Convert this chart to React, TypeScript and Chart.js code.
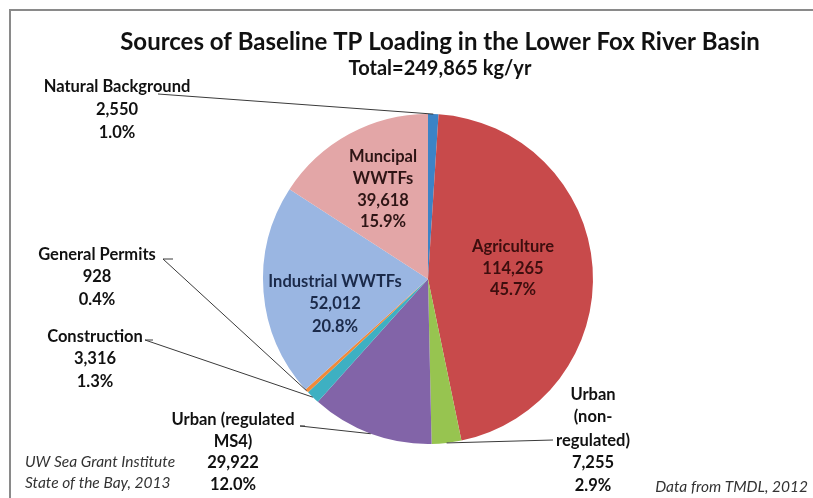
import React, { useEffect, useRef } from "react";
import { Chart, registerables } from "chart.js";

Chart.register(...registerables);

const categories = [
  "Natural Background",
  "Agriculture",
  "Urban (non-regulated)",
  "Urban (regulated MS4)",
  "Construction",
  "General Permits",
  "Industrial WWTFs",
  "Muncipal WWTFs",
];
const loads = [2550, 114265, 7255, 29922, 3316, 928, 52012, 39618];
const nameLines = [
  ["Natural Background"],
  ["Agriculture"],
  ["Urban", "(non-", "regulated)"],
  ["Urban (regulated", "MS4)"],
  ["Construction"],
  ["General Permits"],
  ["Industrial WWTFs"],
  ["Muncipal", "WWTFs"],
];
const sliceColors = [
  "#3c83c6",
  "#c84a4b",
  "#97c450",
  "#8264a8",
  "#3eb0c2",
  "#f08a3a",
  "#9ab6e2",
  "#e3a6a7",
];
const titleText = "Sources of Baseline TP Loading in the Lower Fox River Basin";
const subtitleText = "Total=249,865 kg/yr";
const sourceLeft = ["UW Sea Grant Institute", "State of the Bay, 2013"];
const sourceRight = "Data from TMDL, 2012";

// label layout (canvas px): anchor centre x, first line y, line heights, text colour, leader start
const labelLayout = [
  { x: 117, y: 87, lh: [23, 23, 23], color: "#111", lead: [[158, 94]] },
  { x: 513, y: 247, lh: [22, 21], color: "#3d0e0e", lead: null },
  { x: 593, y: 395, lh: [22, 24, 22, 23], color: "#111", lead: [[553, 440]] },
  { x: 233, y: 420, lh: [22, 21, 22], color: "#111", lead: [[305, 426], [300, 426]] },
  { x: 95, y: 337, lh: [22, 23], color: "#111", lead: [[153, 340], [145, 340]] },
  { x: 97, y: 255, lh: [22, 23], color: "#111", lead: [[173, 259], [163, 259]] },
  { x: 335, y: 282, lh: [22, 23], color: "#1b2a4a", lead: null },
  { x: 383, y: 157, lh: [22, 22, 21], color: "#2e1515", lead: null },
];

const FONT = "Lato, 'Open Sans', sans-serif";

const labelPlugin = {
  id: "pieLabels",
  afterDraw(chart: any) {
    const ctx = chart.ctx as CanvasRenderingContext2D;
    const W = chart.width;
    const meta = chart.getDatasetMeta(0);
    const total = loads.reduce((a, b) => a + b, 0);
    ctx.save();
    // frame
    ctx.strokeStyle = "#8a8a8a";
    ctx.lineWidth = 2;
    ctx.beginPath();
    ctx.moveTo(10, chart.height);
    ctx.lineTo(10, 10);
    ctx.lineTo(W, 10);
    ctx.stroke();

    // title
    ctx.fillStyle = "#111";
    ctx.textAlign = "center";
    ctx.textBaseline = "middle";
    ctx.font = `bold 24px ${FONT}`;
    ctx.fillText(titleText, 440, 42);
    ctx.font = `bold 20px ${FONT}`;
    ctx.fillText(subtitleText, 440, 69);

    // leader lines
    ctx.strokeStyle = "#3a3a3a";
    ctx.lineWidth = 1;
    meta.data.forEach((arc: any, i: number) => {
      const L = labelLayout[i];
      if (!L.lead) return;
      const mid = (arc.startAngle + arc.endAngle) / 2;
      const ex = arc.x + Math.cos(mid) * arc.outerRadius;
      const ey = arc.y + Math.sin(mid) * arc.outerRadius;
      ctx.beginPath();
      ctx.moveTo(L.lead[0][0], L.lead[0][1]);
      for (let k = 1; k < L.lead.length; k++) ctx.lineTo(L.lead[k][0], L.lead[k][1]);
      ctx.moveTo(L.lead[L.lead.length - 1][0], L.lead[L.lead.length - 1][1]);
      ctx.lineTo(ex, ey);
      ctx.stroke();
    });

    // labels
    ctx.font = `bold 16.5px ${FONT}`;
    categories.forEach((_, i) => {
      const L = labelLayout[i];
      const lines = [
        ...nameLines[i],
        loads[i].toLocaleString("en-US"),
        ((loads[i] / total) * 100).toFixed(1) + "%",
      ];
      ctx.fillStyle = L.color;
      let y = L.y;
      lines.forEach((t, k) => {
        ctx.fillText(t, L.x, y);
        y += L.lh[k] ?? 22;
      });
    });

    // sources
    ctx.fillStyle = "#333";
    ctx.font = `italic 15.5px ${FONT}`;
    ctx.textAlign = "left";
    ctx.fillText(sourceLeft[0], 25, 462);
    ctx.fillText(sourceLeft[1], 25, 483);
    ctx.textAlign = "right";
    ctx.fillText(sourceRight, 808, 487);
    ctx.restore();
  },
};

export default function App() {
  const ref = useRef<HTMLCanvasElement>(null);
  useEffect(() => {
    if (!ref.current) return;
    const chart = new Chart(ref.current, {
      type: "pie",
      data: {
        labels: categories,
        datasets: [
          {
            data: loads,
            backgroundColor: sliceColors,
            borderWidth: 0,
          },
        ],
      },
      options: {
        animation: false,
        responsive: false,
        events: [],
        layout: { padding: { top: 114, bottom: 54, left: 105, right: 62 } },
        plugins: {
          legend: { display: false },
          title: { display: false },
          tooltip: { enabled: false },
        },
      },
      plugins: [labelPlugin],
    });
    return () => chart.destroy();
  }, []);
  return (
    <div style={{ position: "absolute", left: 0, top: 0, width: 813, height: 498, overflow: "hidden" }}>
      <canvas ref={ref} width={813} height={498} style={{ display: "block", width: 813, height: 498 }} />
    </div>
  );
}
